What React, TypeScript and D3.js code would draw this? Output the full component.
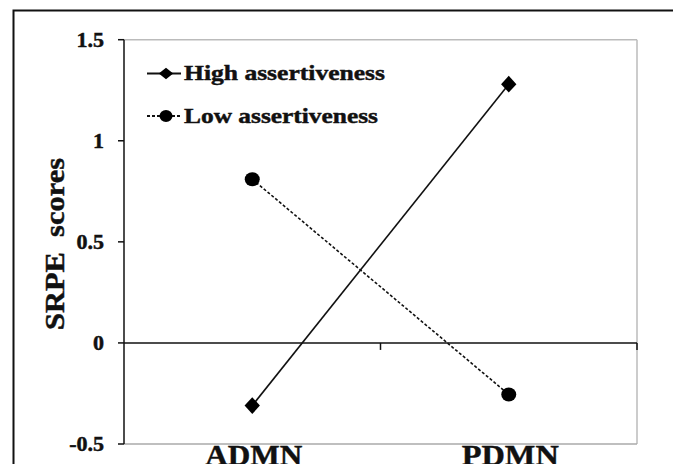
import React from "react";
import * as d3 from "d3";

const categories = ["ADMN", "PDMN"];
const highAssertiveness = [-0.31, 1.28];
const lowAssertiveness = [0.81, -0.255];
const yTicks = [-0.5, 0, 0.5, 1, 1.5];
const yTickLabels = ["-0.5", "0", "0.5", "1", "1.5"];
const seriesNames = ["High assertiveness", "Low assertiveness"];

const W = 673;
const H = 464;
const PL = 124;
const PR = 637;
const PT = 39.7;
const PB = 444;

export default function App() {
  const x = d3.scaleBand<string>().domain(categories).range([PL, PR]).padding(0);
  const y = d3.scaleLinear().domain([-0.5, 1.5]).range([PB, PT]);
  const cx = (c: string) => (x(c) as number) + x.bandwidth() / 2;

  const line = d3
    .line<number>()
    .x((_, i) => cx(categories[i]))
    .y((v) => y(v));

  const diamond = d3.symbol().type(d3.symbolDiamond2).size(150)();
  const legendDiamond = d3.symbol().type(d3.symbolDiamond2).size(100)();
  const serif = "'Liberation Serif', 'Times New Roman', serif";
  const heavy = { stroke: "#111", strokeWidth: 0.45 };

  return (
    <svg
      width={W}
      height={H}
      style={{ position: "absolute", left: 0, top: 0, background: "#fff" }}
    >
      <rect x={0} y={0} width={W} height={H} fill="#fff" />
      {/* outer frame */}
      <rect x={13.5} y={10.5} width={W + 20} height={H + 20} fill="none" stroke="#111" strokeWidth={2} />

      {/* plot frame */}
      <line x1={PL} x2={PR} y1={PT} y2={PT} stroke="#bbb" strokeWidth={1.5} />
      <line x1={PR} x2={PR} y1={PT} y2={PB} stroke="#bbb" strokeWidth={1.5} />
      <line x1={PL} x2={PR} y1={PB} y2={PB} stroke="#aaa" strokeWidth={1.5} />

      {/* y axis */}
      <line x1={PL} x2={PL} y1={PT} y2={PB} stroke="#111" strokeWidth={1.5} />
      {yTicks.map((t, i) => (
        <g key={t}>
          <line x1={PL - 6} x2={PL} y1={y(t)} y2={y(t)} stroke="#111" strokeWidth={1.5} />
          <text
            transform={`translate(${PL - 20},${y(t) + 7}) scale(1.1,1)`}
            textAnchor="end"
            fontFamily={serif}
            fontWeight="bold"
            fontSize={20}
            fill="#111"
            {...heavy}
          >
            {yTickLabels[i]}
          </text>
        </g>
      ))}

      {/* zero axis */}
      <line x1={PL} x2={PR} y1={y(0)} y2={y(0)} stroke="#111" strokeWidth={1.5} />
      {categories.map((c) => (
        <line
          key={c}
          x1={(x(c) as number) + x.bandwidth()}
          x2={(x(c) as number) + x.bandwidth()}
          y1={y(0)}
          y2={y(0) + 7}
          stroke="#111"
          strokeWidth={1.5}
        />
      ))}

      {/* category labels */}
      {categories.map((c) => (
        <text
          key={c}
          x={cx(c) - 48 + 1}
          y={465}
          textLength={97}
          lengthAdjust="spacingAndGlyphs"
          fontFamily={serif}
          fontWeight="bold"
          fontSize={30}
          fill="#111"
          {...heavy}
        >
          {c}
        </text>
      ))}

      {/* y label */}
      <text
        transform={`translate(64,244) rotate(-90)`}
        x={-86}
        y={0}
        textLength={172}
        lengthAdjust="spacingAndGlyphs"
        fontFamily={serif}
        fontWeight="bold"
        fontSize={27}
        fill="#111"
        style={{ whiteSpace: "pre" }}
        {...heavy}
      >
        {"SRPE  scores"}
      </text>

      {/* series */}
      <path d={line(highAssertiveness) as string} fill="none" stroke="#111" strokeWidth={1.6} />
      <path
        d={line(lowAssertiveness) as string}
        fill="none"
        stroke="#111"
        strokeWidth={1.6}
        strokeDasharray="3,2"
      />
      {highAssertiveness.map((v, i) => (
        <path
          key={i}
          d={diamond as string}
          transform={`translate(${cx(categories[i])},${y(v)}) scale(1,1.1)`}
          fill="#000"
        />
      ))}
      {lowAssertiveness.map((v, i) => (
        <ellipse key={i} cx={cx(categories[i])} cy={y(v)} rx={7.5} ry={7} fill="#000" />
      ))}

      {/* legend */}
      <g>
        <line x1={147} x2={181} y1={73.5} y2={73.5} stroke="#111" strokeWidth={1.8} />
        <path d={legendDiamond as string} transform="translate(166,73.5) scale(1.15,0.9)" fill="#000" />
        <text
          x={184}
          y={79.5}
          textLength={201}
          lengthAdjust="spacingAndGlyphs"
          fontFamily={serif}
          fontWeight="bold"
          fontSize={21.5}
          fill="#111"
          {...heavy}
        >
          {seriesNames[0]}
        </text>
        <line x1={147} x2={181} y1={116} y2={116} stroke="#111" strokeWidth={1.8} strokeDasharray="3,2" />
        <ellipse cx={166} cy={116} rx={6.5} ry={6} fill="#000" />
        <text
          x={184}
          y={122.5}
          textLength={194}
          lengthAdjust="spacingAndGlyphs"
          fontFamily={serif}
          fontWeight="bold"
          fontSize={21.5}
          fill="#111"
          {...heavy}
        >
          {seriesNames[1]}
        </text>
      </g>
    </svg>
  );
}
